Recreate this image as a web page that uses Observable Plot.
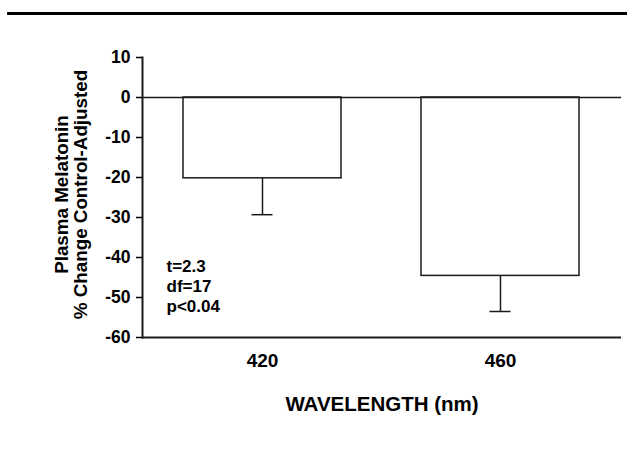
<!DOCTYPE html>
<html><head><meta charset="utf-8">
<script src="https://cdn.jsdelivr.net/npm/d3@7"></script>
<script src="https://cdn.jsdelivr.net/npm/@observablehq/plot@0.6"></script>
<style>
html,body{margin:0;padding:0;background:#fff;}
#wrap{position:relative;width:627px;height:452px;overflow:hidden;}
#wrap svg{position:absolute;left:0;top:0;}
#rule{position:absolute;left:7px;right:0;top:12px;height:3px;background:#000;z-index:2;}
</style></head><body><div id="wrap"><div id="rule"></div></div>
<script>
const wavelengths = ["420", "460"];
const meanChange = [-20.2, -44.6];
const errorDown = [9.1, 8.9];
const yTicks = [10, 0, -10, -20, -30, -40, -50, -60];
const yDomain = [-60, 10];
const xTitle = "WAVELENGTH (nm)";
const yTitleLines = ["Plasma Melatonin", "% Change Control-Adjusted"];
const statsLines = ["t=2.3", "df=17", "p<0.04"];

const rows = wavelengths.map((w, i) => ({w, mean: meanChange[i], low: meanChange[i] - errorDown[i]}));
const font = "'Liberation Sans', Arial, Helvetica, sans-serif";
const ink = "#1a1a1a";

const chart = Plot.plot({
  width: 627, height: 452,
  marginTop: 57, marginBottom: 115, marginLeft: 142, marginRight: 6,
  style: {fontFamily: font, fontWeight: "bold", background: "white", color: "#000", overflow: "visible"},
  x: {domain: wavelengths, paddingInner: 0.335, paddingOuter: 0.17, axis: null},
  y: {domain: yDomain, axis: null},
  marks: [
    Plot.barY(rows, {x: "w", y1: 0, y2: "mean", fill: "white", stroke: ink, strokeWidth: 1.5}),
    Plot.ruleX(rows, {x: "w", y1: "mean", y2: "low", stroke: ink, strokeWidth: 1.5}),
    Plot.tickY(rows, {x: "w", y: "low", insetLeft: 68.5, insetRight: 68.5, stroke: ink, strokeWidth: 1.5}),
    Plot.ruleY([0], {stroke: ink, strokeWidth: 1.5}),
    Plot.ruleY([yDomain[0]], {stroke: ink, strokeWidth: 2}),
    Plot.frame({anchor: "left", stroke: ink, strokeWidth: 2}),
    Plot.axisY({ticks: yTicks, tickSize: 6, tickPadding: 6, fontSize: 17.5, tickFormat: d => String(d), label: null, strokeWidth: 1.5}),
    Plot.axisX({tickSize: 0, tickPadding: 16, fontSize: 19, label: null}),
    Plot.text([xTitle], {text: d => d, frameAnchor: "bottom", dy: 66.6, lineAnchor: "middle", textAnchor: "middle", fontSize: 20.5, fontWeight: "bold"}),
    Plot.text([yTitleLines.join("\n")], {text: d => d, frameAnchor: "left", dx: -71, dy: -3, rotate: -90, textAnchor: "middle", lineAnchor: "middle", fontSize: 18.8, lineHeight: 1.0, fontWeight: "bold"}),
    Plot.text([statsLines.join("\n")], {text: d => d, frameAnchor: "top-left", dx: 24, dy: 200, textAnchor: "start", lineAnchor: "top", fontSize: 17, lineHeight: 1.18, fontWeight: "bold"})
  ]
});
document.getElementById("wrap").appendChild(chart);
</script>
</body></html>
